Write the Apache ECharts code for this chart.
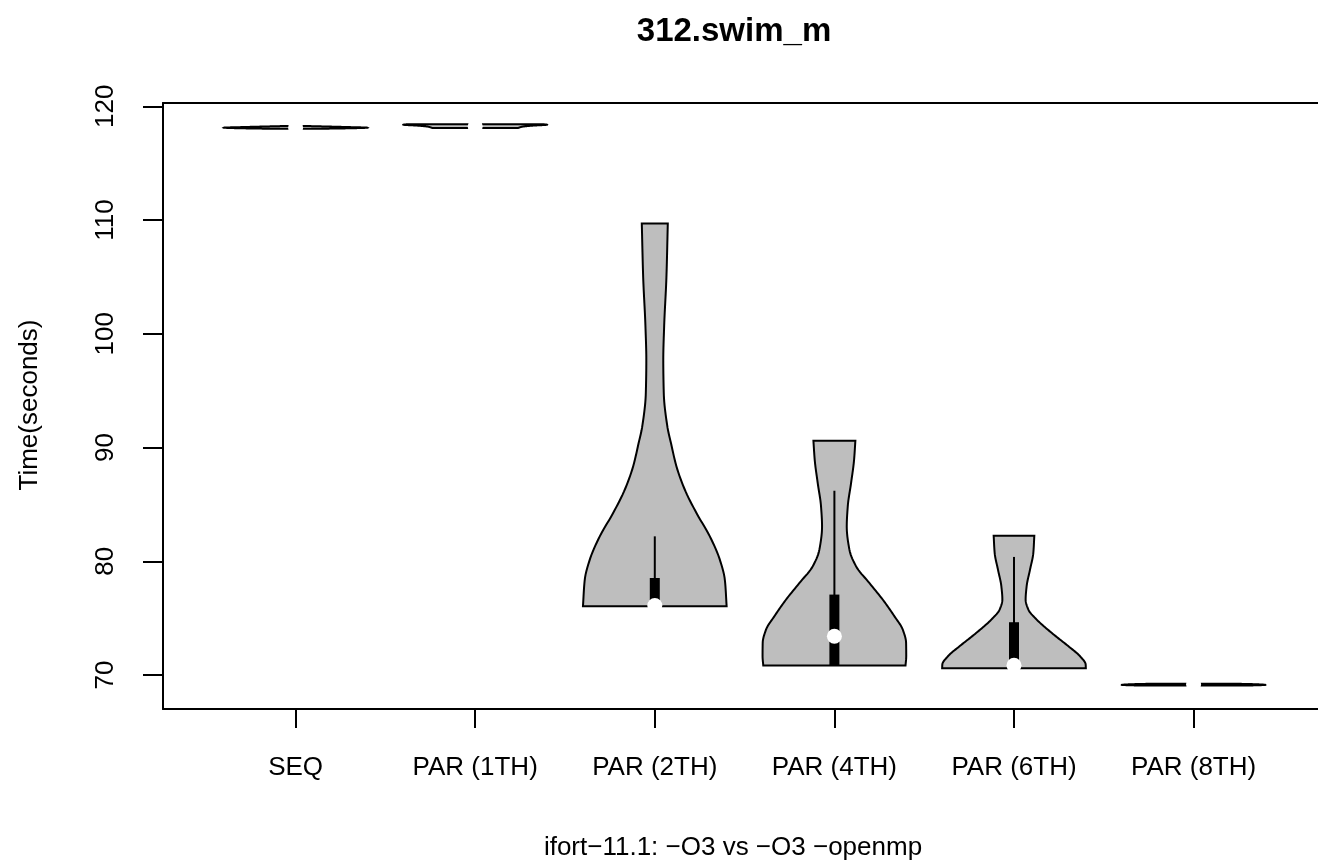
<!DOCTYPE html>
<html><head><meta charset="utf-8">
<script src="https://cdn.jsdelivr.net/npm/echarts@6/dist/echarts.min.js"></script>
<style>html,body{margin:0;padding:0;background:#fff}#c{width:1318px;height:863px}</style>
</head><body><div id="c"></div>
<script>
// ---- data ----
const categories = ['SEQ', 'PAR (1TH)', 'PAR (2TH)', 'PAR (4TH)', 'PAR (6TH)', 'PAR (8TH)'];
const yTicks = [70, 80, 90, 100, 110, 120];

// violin outlines: values (seconds, bottom to top) and relative half-width (1 = widest)
const seqVals = [118.02, 118.08, 118.12, 118.18, 118.26];
const seqWidths = [0.3, 0.85, 1.0, 0.7, 0.2];
const par1Vals = [118.10, 118.20, 118.30, 118.38, 118.42];
const par1Widths = [0.6, 0.65, 0.8, 1.0, 0.95];
const par2Vals = [76.04, 78.38, 80.14, 82.19, 84.24, 86.29, 88.33, 90.39, 91.84, 94.78, 97.70, 100.62, 105.01, 109.70];
const par2Widths = [1.0, 0.975, 0.905, 0.766, 0.58, 0.418, 0.302, 0.225, 0.175, 0.125, 0.118, 0.13, 0.162, 0.181];
const par4Vals = [70.83, 71.65, 72.83, 74.00, 75.16, 76.63, 78.09, 79.55, 81.02, 83.06, 84.82, 86.87, 88.92, 90.59];
const par4Widths = [0.99, 1.0, 0.998, 0.951, 0.836, 0.673, 0.487, 0.302, 0.209, 0.172, 0.186, 0.232, 0.274, 0.292];
const par6Vals = [70.60, 70.92, 71.65, 72.53, 73.70, 74.87, 75.75, 76.63, 77.80, 79.26, 80.73, 82.25];
const par6Widths = [1.0, 0.998, 0.919, 0.757, 0.525, 0.316, 0.2, 0.162, 0.176, 0.223, 0.269, 0.283];
const par8Vals = [69.08, 69.13, 69.18, 69.23];
const par8Widths = [0.8, 1.0, 0.9, 0.6];

// box-plot statistics
const whiskerLow = [118.02, 118.10, 76.04, 70.83, 70.60, 69.08];
const q1Vals     = [118.08, 118.18, 76.04, 70.83, 70.60, 69.12];
const medianVals = [118.12, 118.24, 76.10, 73.41, 70.85, 69.16];
const q3Vals     = [118.18, 118.32, 78.53, 77.07, 74.64, 69.20];
const whiskerHigh= [118.26, 118.42, 82.19, 86.20, 80.38, 69.23];

const profileVals = [seqVals, par1Vals, par2Vals, par4Vals, par6Vals, par8Vals];
const profileWidths = [seqWidths, par1Widths, par2Widths, par4Widths, par6Widths, par8Widths];

// ---- drawing ----
const HALF = 0.4;       // max violin half-width in x units
const BOX_HALF_PX = 5;
const DOT_R = 7.5;
const FONT = '"Liberation Sans", Arial, Helvetica, sans-serif';

// monotone cubic (Fritsch-Carlson) evaluation used only for drawing the outline smoothly
function monotoneSampler(xs, ys) {
  const n = xs.length;
  const d = [], m = new Array(n);
  for (let i = 0; i < n - 1; i++) d.push((ys[i + 1] - ys[i]) / (xs[i + 1] - xs[i]));
  m[0] = d[0]; m[n - 1] = d[n - 2];
  for (let i = 1; i < n - 1; i++) {
    if (d[i - 1] * d[i] <= 0) m[i] = 0;
    else {
      const w1 = 2 * (xs[i + 1] - xs[i]) + (xs[i] - xs[i - 1]);
      const w2 = (xs[i + 1] - xs[i]) + 2 * (xs[i] - xs[i - 1]);
      m[i] = (w1 + w2) / (w1 / d[i - 1] + w2 / d[i]);
    }
  }
  return function (x) {
    let i = 0;
    while (i < n - 2 && x > xs[i + 1]) i++;
    const h = xs[i + 1] - xs[i], t = (x - xs[i]) / h;
    const t2 = t * t, t3 = t2 * t;
    return (2 * t3 - 3 * t2 + 1) * ys[i] + (t3 - 2 * t2 + t) * h * m[i] + (-2 * t3 + 3 * t2) * ys[i + 1] + (t3 - t2) * h * m[i + 1];
  };
}

function renderViolin(params, api) {
  const i = params.dataIndex;
  const pos = api.value(0);
  const vals = profileVals[i], ws = profileWidths[i];
  const f = monotoneSampler(vals, ws);
  const lo = vals[0], hiV = vals[vals.length - 1];
  const N = 120;
  const left = [], right = [];
  for (let k = 0; k <= N; k++) {
    const v = lo + (hiV - lo) * k / N;
    const w = Math.max(0, f(v));
    left.push(api.coord([pos - w * HALF, v]));
    right.push(api.coord([pos + w * HALF, v]));
  }
  const poly = left.concat(right.reverse());
  const c = api.coord([pos, medianVals[i]]);
  const wl = api.coord([pos, whiskerLow[i]]), wh = api.coord([pos, whiskerHigh[i]]);
  const q1 = api.coord([pos, q1Vals[i]]), q3 = api.coord([pos, q3Vals[i]]);
  return {
    type: 'group',
    children: [
      { type: 'polygon', shape: { points: poly }, style: { fill: '#bebebe', stroke: '#000', lineWidth: 2, lineJoin: 'miter' } },
      { type: 'line', shape: { x1: c[0], y1: wl[1], x2: c[0], y2: wh[1] }, style: { stroke: '#000', lineWidth: 2 } },
      { type: 'rect', shape: { x: c[0] - BOX_HALF_PX, y: q3[1], width: BOX_HALF_PX * 2, height: Math.max(1, q1[1] - q3[1]) }, style: { fill: '#000' } },
      { type: 'circle', shape: { cx: c[0], cy: c[1], r: DOT_R }, style: { fill: '#fff' } }
    ]
  };
}

const chart = echarts.init(document.getElementById('c'), null, { renderer: 'canvas' });
const axisLineStyle = { color: '#000', width: 2 };
chart.setOption({
  animation: false,
  backgroundColor: '#fff',
  grid: { left: 163, top: 103, right: 0, height: 606, show: false },
  xAxis: [{
    type: 'value', min: 0.2617, max: 6.6927, position: 'bottom',
    splitLine: { show: false },
    axisLine: { show: true, onZero: false, lineStyle: axisLineStyle },
    axisTick: { show: true, length: 19, lineStyle: axisLineStyle, customValues: [1, 2, 3, 4, 5, 6] },
    axisLabel: { customValues: [1, 2, 3, 4, 5, 6], formatter: v => categories[Math.round(v) - 1], fontSize: 26, color: '#000', margin: 46, fontFamily: FONT }
  }, {
    type: 'value', min: 0.2617, max: 6.6927, position: 'top',
    splitLine: { show: false },
    axisLine: { show: true, onZero: false, lineStyle: axisLineStyle },
    axisTick: { show: false }, axisLabel: { show: false }
  }],
  yAxis: {
    type: 'value', min: 67.01, max: 120.29,
    splitLine: { show: false },
    axisLine: { show: true, onZero: false, lineStyle: axisLineStyle },
    axisTick: { show: true, length: 20, lineStyle: axisLineStyle, customValues: yTicks },
    axisLabel: { customValues: yTicks, rotate: 90, fontSize: 26, color: '#000', margin: 44, fontFamily: FONT }
  },
  graphic: [
    { type: 'text', x: 734, y: 32, style: { text: '312.swim_m', font: 'bold 33px ' + FONT, fill: '#000', textAlign: 'center', textVerticalAlign: 'middle' } },
    { type: 'text', x: 733, y: 848, style: { text: 'ifort\u221211.1: \u2212O3 vs \u2212O3 \u2212openmp', font: '26px ' + FONT, fill: '#000', textAlign: 'center', textVerticalAlign: 'middle' } },
    { type: 'text', x: 30, y: 405, rotation: Math.PI / 2, style: { text: 'Time(seconds)', font: '26px ' + FONT, fill: '#000', textAlign: 'center', textVerticalAlign: 'middle' } }
  ],
  series: [{
    type: 'custom',
    renderItem: renderViolin,
    data: categories.map((c, i) => [i + 1, medianVals[i]]),
    encode: { x: 0, y: 1 },
    clip: false
  }]
});
</script>
</body></html>
